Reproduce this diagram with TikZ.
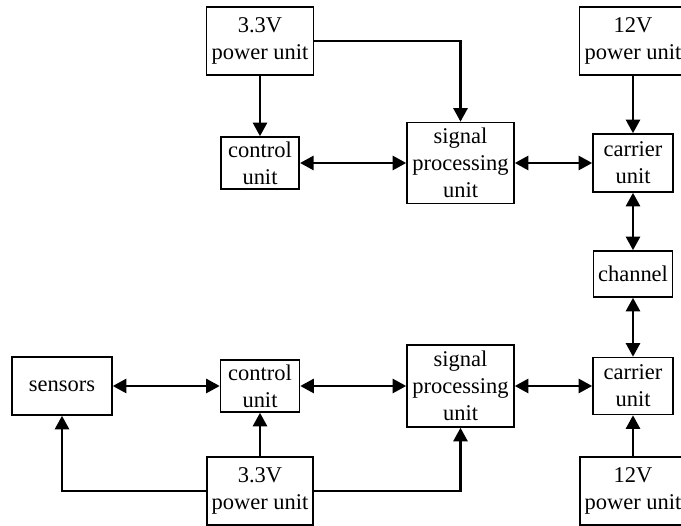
\documentclass[tikz,border=0pt]{standalone}
\usepackage{fontspec}
\setmainfont{Liberation Serif}
\usepackage{tikz}
\usetikzlibrary{arrows.meta,positioning,shapes.geometric}

\begin{document}
\begin{tikzpicture}[
    auto,
    node distance=2cm,
    >={Triangle[length=2.7mm,width=2.8mm]},
    font=\fontsize{12.8}{15.4}\selectfont,
    unit/.style={
		rectangle,
		draw=black,
		line width=0.9pt,
		text centered,
		align=center,
		inner sep=1pt,
		fill=white
	},
	link/.style={
		line width=1.4pt
	}
  ]
  \useasboundingbox (0,0) rectangle (13.62,-10.52);
    % We start by placing the blocks

  % upper chain
  \node [unit, minimum width=1.57cm, minimum height=1.04cm] (ctrlA) at (5.2,-3.26)
 {control\\unit};

  \node [unit, above of=ctrlA, node distance=2.44cm, minimum width=2.14cm, minimum height=1.36cm] (pwrA)
 {3.3V\\power unit};

  \node [unit, right of=ctrlA, node distance=4.01cm, minimum width=2.14cm, minimum height=1.62cm] (spA)
 {signal\\processing\\unit};

  \node [unit, right of=spA, node distance=3.45cm, minimum width=1.6cm, minimum height=1.16cm] (carA)
 {carrier\\unit};

  \node [unit, above of=carA, node distance=2.44cm, minimum width=2.14cm, minimum height=1.36cm] (pwrB)
 {12V\\power unit};

  \node [unit, below of=carA, node distance=2.22cm, minimum width=1.58cm, minimum height=0.92cm] (chan)
 {channel};

  % lower chain
  \node [unit, below of=chan, node distance=2.24cm, minimum width=1.6cm, minimum height=1.14cm] (carB)
 {carrier\\unit};

  \node [unit, left of=carB, node distance=3.45cm, minimum width=2.14cm, minimum height=1.64cm] (spB)
 {signal\\processing\\unit};

  \node [unit, left of=spB, node distance=4.01cm, minimum width=1.58cm, minimum height=1.04cm] (ctrlB)
 {control\\unit};

  \node [unit, left of=ctrlB, node distance=3.96cm, minimum width=2.0cm, minimum height=1.16cm] (sens)
 {sensors};

  \node [unit, below of=ctrlB, node distance=2.1cm, minimum width=2.12cm, minimum height=1.36cm] (pwrC)
 {3.3V\\power unit};

  \node [unit, below of=carB, node distance=2.1cm, minimum width=2.12cm, minimum height=1.36cm] (pwrD)
 {12V\\power unit};

 \draw [link,->] (pwrA) -- (ctrlA);
 \draw [link,->] (pwrA) -| (spA);
 \draw [link,<->] (ctrlA) -- (spA);
 \draw [link,<->] (spA) -- (carA);
 \draw [link,->] (pwrB) -- (carA);
 \draw [link,<->] (carA) -- (chan);
 \draw [link,<->] (chan) -- (carB);

 \draw [link,<->] (sens) -- (ctrlB);
 \draw [link,<->] (ctrlB) -- (spB);
 \draw [link,<->] (spB) -- (carB);
 \draw [link,->] (pwrC) -- (ctrlB);
 \draw [link,->] (pwrC) -| (sens);
 \draw [link,->] (pwrC) -| (spB);
 \draw [link,->] (pwrD) -- (carB);

\end{tikzpicture}
\end{document}
